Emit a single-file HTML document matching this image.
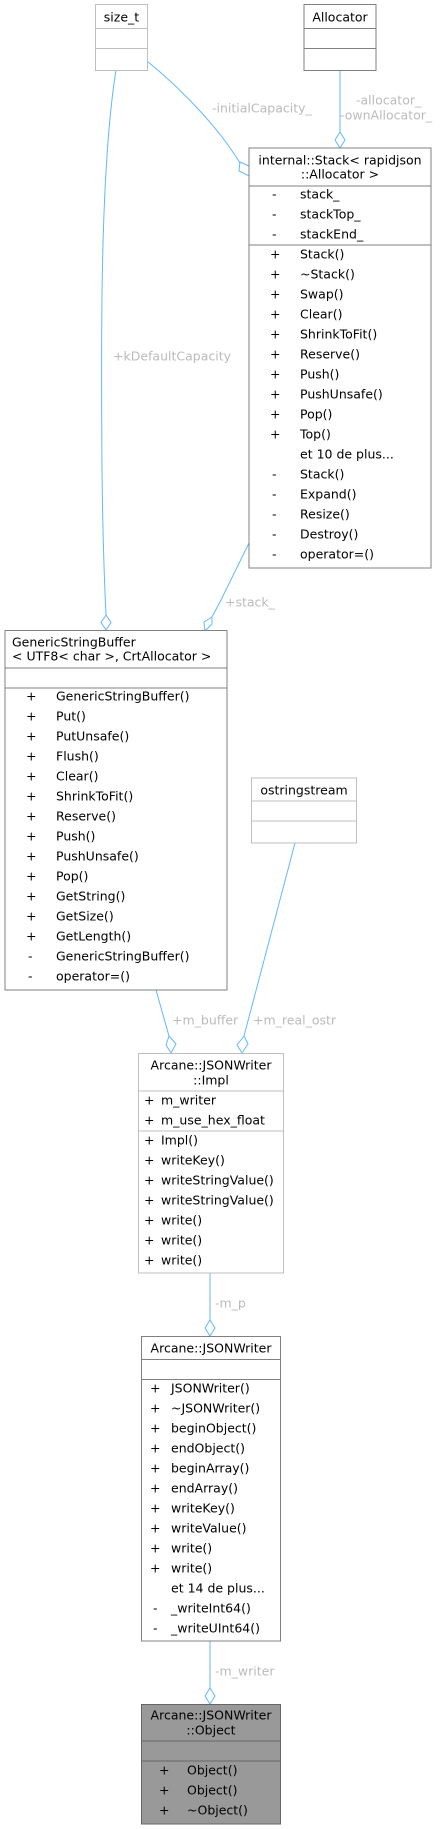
<!DOCTYPE html>
<html><head><meta charset="utf-8"><style>
html,body{margin:0;padding:0;background:#fff;}
svg{display:block;font-family:"DejaVu Sans","Liberation Sans",sans-serif;font-size:12.5px;}
text{dominant-baseline:central;}
.l{fill:#bbb;}
</style></head><body>
<svg width="443" height="1829" viewBox="0 0 443 1829" xmlns="http://www.w3.org/2000/svg">
<g fill="none" stroke="#63b8ff" stroke-width="1">
<path d="M147,61 C185,92 220,130 240,163"/>
<path d="M249,166 L240,162 L239,171 L249,176 Z"/>
<path d="M340,70 L340,132"/>
<path d="M340,132 L345,140 L340,148 L335,140 Z"/>
<path d="M116,70 C100,170 101,340 102,470 C103,560 105,590 106,615"/>
<path d="M106,615 L111,622.5 L106,630 L101,622.5 Z"/>
<path d="M249,543 L221,600 L212,617"/>
<path d="M212,617 L212,624 L205,631 L204,622 Z"/>
<path d="M156,990 L169,1036"/>
<path d="M169,1036 L176,1044 L171,1053 L166,1045 Z"/>
<path d="M295,843 L244,1036"/>
<path d="M244,1036 L248,1044 L242,1053 L237,1045 Z"/>
<path d="M210,1273 L210,1320"/>
<path d="M210,1320 L215,1328 L210,1336 L205,1328 Z"/>
<path d="M210,1641 L210,1688"/>
<path d="M210,1688 L215,1696 L210,1704 L205,1696 Z"/>
</g>
<g class="l">
<text x="212" y="108">-initialCapacity_</text>
<text x="356" y="100">-allocator_</text>
<text x="340" y="115">-ownAllocator_</text>
<text x="113" y="356">+kDefaultCapacity</text>
<text x="225" y="602">+stack_</text>
<text x="172" y="1020">+m_buffer</text>
<text x="253" y="1020">+m_real_ostr</text>
<text x="215" y="1303">-m_p</text>
<text x="215" y="1671">-m_writer</text>
</g>
<!-- size_t -->
<g stroke="#bfbfbf" fill="#fff"><rect x="95.5" y="4.5" width="52" height="66"/><path d="M95.5,28.5 H147.5 M95.5,48.5 H147.5"/></g>
<text x="121.5" y="17" text-anchor="middle">size_t</text>
<!-- Allocator -->
<g stroke="#808080" fill="#fff"><rect x="304" y="4.5" width="72" height="66"/><path d="M304,28.5 H376 M304,48.5 H376"/></g>
<text x="340" y="17" text-anchor="middle">Allocator</text>
<!-- Stack -->
<g stroke="#808080" fill="#fff"><rect x="249" y="148" width="182" height="420"/><path d="M249,186 H431 M249,245 H431"/></g>
<text x="340" y="160" text-anchor="middle">internal::Stack&lt; rapidjson</text>
<text x="340" y="174" text-anchor="middle">::Allocator &gt;</text>
<g>
<text x="272" y="194">-</text><text x="300" y="194">stack_</text>
<text x="272" y="214">-</text><text x="300" y="214">stackTop_</text>
<text x="272" y="234">-</text><text x="300" y="234">stackEnd_</text>
<text x="270" y="254">+</text><text x="300" y="254">Stack()</text>
<text x="270" y="274">+</text><text x="300" y="274">~Stack()</text>
<text x="270" y="294">+</text><text x="300" y="294">Swap()</text>
<text x="270" y="314">+</text><text x="300" y="314">Clear()</text>
<text x="270" y="334">+</text><text x="300" y="334">ShrinkToFit()</text>
<text x="270" y="354">+</text><text x="300" y="354">Reserve()</text>
<text x="270" y="374">+</text><text x="300" y="374">Push()</text>
<text x="270" y="394">+</text><text x="300" y="394">PushUnsafe()</text>
<text x="270" y="414">+</text><text x="300" y="414">Pop()</text>
<text x="270" y="434">+</text><text x="300" y="434">Top()</text>
<text x="300" y="454">et 10 de plus...</text>
<text x="272" y="474">-</text><text x="300" y="474">Stack()</text>
<text x="272" y="494">-</text><text x="300" y="494">Expand()</text>
<text x="272" y="514">-</text><text x="300" y="514">Resize()</text>
<text x="272" y="534">-</text><text x="300" y="534">Destroy()</text>
<text x="272" y="554">-</text><text x="300" y="554">operator=()</text>
</g>
<!-- GenericStringBuffer -->
<g stroke="#808080" fill="#fff"><rect x="5" y="630.5" width="222" height="359.5"/><path d="M5,668 H227 M5,688 H227"/></g>
<text x="12" y="642">GenericStringBuffer</text>
<text x="12" y="656">&lt; UTF8&lt; char &gt;, CrtAllocator &gt;</text>
<g>
<text x="26" y="696">+</text><text x="56" y="696">GenericStringBuffer()</text>
<text x="26" y="716">+</text><text x="56" y="716">Put()</text>
<text x="26" y="736">+</text><text x="56" y="736">PutUnsafe()</text>
<text x="26" y="756">+</text><text x="56" y="756">Flush()</text>
<text x="26" y="776">+</text><text x="56" y="776">Clear()</text>
<text x="26" y="796">+</text><text x="56" y="796">ShrinkToFit()</text>
<text x="26" y="816">+</text><text x="56" y="816">Reserve()</text>
<text x="26" y="836">+</text><text x="56" y="836">Push()</text>
<text x="26" y="856">+</text><text x="56" y="856">PushUnsafe()</text>
<text x="26" y="876">+</text><text x="56" y="876">Pop()</text>
<text x="26" y="896">+</text><text x="56" y="896">GetString()</text>
<text x="26" y="916">+</text><text x="56" y="916">GetSize()</text>
<text x="26" y="936">+</text><text x="56" y="936">GetLength()</text>
<text x="28" y="956">-</text><text x="56" y="956">GenericStringBuffer()</text>
<text x="28" y="976">-</text><text x="56" y="976">operator=()</text>
</g>
<!-- ostringstream -->
<g stroke="#bfbfbf" fill="#fff"><rect x="251.5" y="778" width="105" height="65"/><path d="M251.5,801 H356.5 M251.5,821 H356.5"/></g>
<text x="304" y="790" text-anchor="middle">ostringstream</text>
<!-- Impl -->
<g stroke="#bfbfbf" fill="#fff"><rect x="138.5" y="1053.5" width="145" height="219.5"/><path d="M138.5,1091 H283.5 M138.5,1131 H283.5"/></g>
<text x="211" y="1065" text-anchor="middle">Arcane::JSONWriter</text>
<text x="211" y="1080" text-anchor="middle">::Impl</text>
<g>
<text x="144" y="1100">+</text><text x="161" y="1100">m_writer</text>
<text x="144" y="1120">+</text><text x="161" y="1120">m_use_hex_float</text>
<text x="144" y="1140">+</text><text x="161" y="1140">Impl()</text>
<text x="144" y="1160">+</text><text x="161" y="1160">writeKey()</text>
<text x="144" y="1180">+</text><text x="161" y="1180">writeStringValue()</text>
<text x="144" y="1200">+</text><text x="161" y="1200">writeStringValue()</text>
<text x="144" y="1220">+</text><text x="161" y="1220">write()</text>
<text x="144" y="1240">+</text><text x="161" y="1240">write()</text>
<text x="144" y="1260">+</text><text x="161" y="1260">write()</text>
</g>
<!-- JSONWriter -->
<g stroke="#808080" fill="#fff"><rect x="141.5" y="1336.5" width="139" height="304.5"/><path d="M141.5,1359.5 H280.5 M141.5,1379.5 H280.5"/></g>
<text x="211" y="1348" text-anchor="middle">Arcane::JSONWriter</text>
<g>
<text x="150" y="1388">+</text><text x="171" y="1388">JSONWriter()</text>
<text x="150" y="1408">+</text><text x="171" y="1408">~JSONWriter()</text>
<text x="150" y="1428">+</text><text x="171" y="1428">beginObject()</text>
<text x="150" y="1448">+</text><text x="171" y="1448">endObject()</text>
<text x="150" y="1468">+</text><text x="171" y="1468">beginArray()</text>
<text x="150" y="1488">+</text><text x="171" y="1488">endArray()</text>
<text x="150" y="1508">+</text><text x="171" y="1508">writeKey()</text>
<text x="150" y="1528">+</text><text x="171" y="1528">writeValue()</text>
<text x="150" y="1548">+</text><text x="171" y="1548">write()</text>
<text x="150" y="1568">+</text><text x="171" y="1568">write()</text>
<text x="171" y="1588">et 14 de plus...</text>
<text x="153" y="1608">-</text><text x="171" y="1608">_writeInt64()</text>
<text x="153" y="1628">-</text><text x="171" y="1628">_writeUInt64()</text>
</g>
<!-- Object -->
<g stroke="#666" fill="#999"><rect x="141.5" y="1704.5" width="139" height="119.5"/><path d="M141.5,1741 H280.5 M141.5,1761 H280.5"/></g>
<text x="211" y="1715" text-anchor="middle">Arcane::JSONWriter</text>
<text x="211" y="1730" text-anchor="middle">::Object</text>
<text x="159" y="1770">+</text><text x="187" y="1770">Object()</text>
<text x="159" y="1790">+</text><text x="187" y="1790">Object()</text>
<text x="159" y="1810">+</text><text x="187" y="1810">~Object()</text>
</svg>
</body></html>
